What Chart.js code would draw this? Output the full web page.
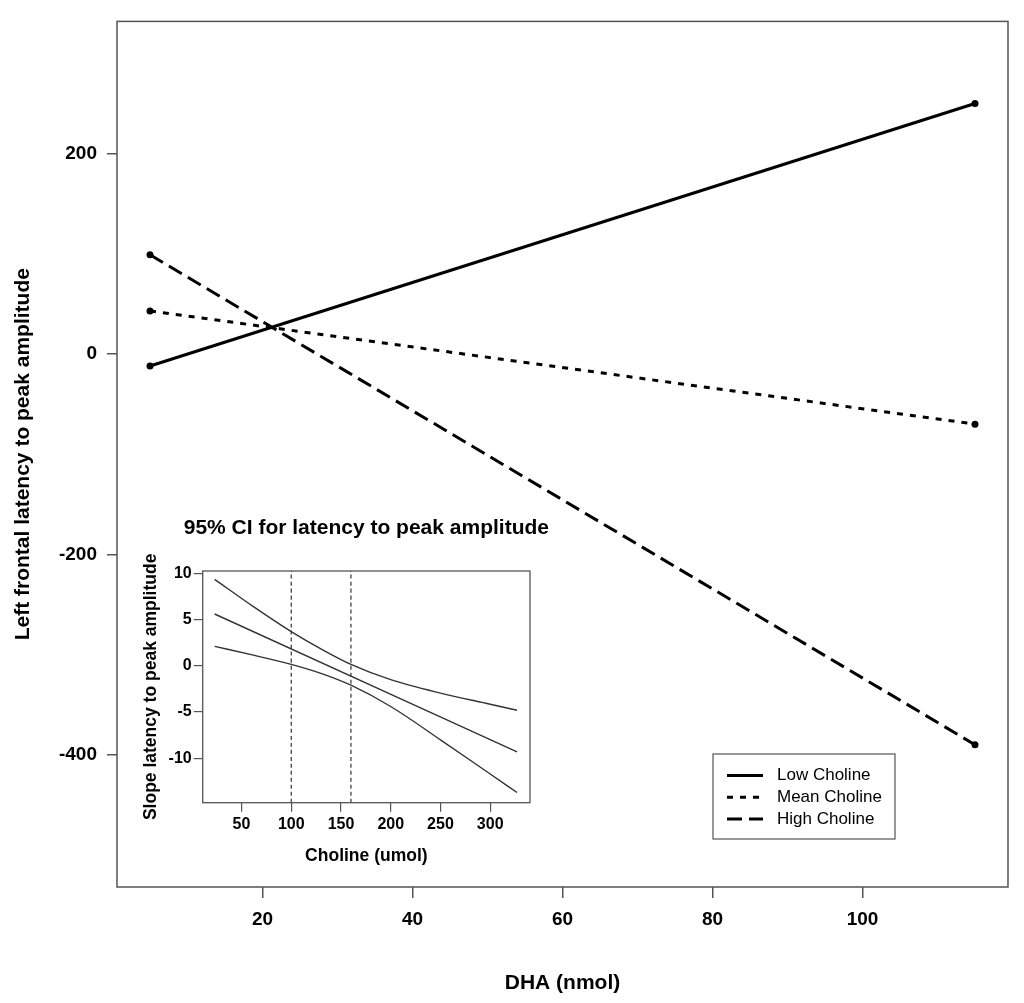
<!DOCTYPE html>
<html>
<head>
<meta charset="utf-8">
<script src="https://cdn.jsdelivr.net/npm/chart.js@4.4.1/dist/chart.umd.min.js"></script>
<style>
  body { margin: 0; background: #fff; }
  #wrap { position: relative; width: 1024px; height: 1003px; }
  #mainChart { position: absolute; left: 0; top: 0; }
  #insetChart { position: absolute; left: 130px; top: 505px; }
</style>
</head>
<body>
<div id="wrap">
  <canvas id="mainChart" width="1024" height="1003"></canvas>
  <canvas id="insetChart" width="420" height="370"></canvas>
</div>
<script>
// main plot: latency vs DHA, one line per choline level
var dhaX = [5, 115];
var lowCholine = [-12, 250];
var meanCholine = [43, -70];
var highCholine = [99, -390];
var seriesNames = ['Low Choline', 'Mean Choline', 'High Choline'];
var dhaTicks = [20, 40, 60, 80, 100];
var latencyTicks = [-400, -200, 0, 200];

// inset: slope of latency with 95% CI over choline
var cholineX = [23, 62, 100, 132, 160, 200, 250, 300, 327];
var ciUpper = [9.35, 6.4, 3.7, 1.7, 0.15, -1.5, -2.95, -4.15, -4.8];
var ciLower = [2.1, 1.15, 0.15, -0.9, -2.1, -4.4, -8.0, -11.7, -13.7];
var slopeX = [23, 327];
var slopeFit = [5.6, -9.3];
var regionBounds = [100, 160];
var cholineTicks = [50, 100, 150, 200, 250, 300];
var slopeTicks = [-10, -5, 0, 5, 10];

var FONT = '"Liberation Sans", Arial, Helvetica, sans-serif';
var INSET_YMIN = -14.8, INSET_YMAX = 10.25;

function pts(xs, ys) {
    return xs.map(function (x, i) { return { x: x, y: ys[i] }; });
}
function fixTicks(list) {
    return function (scale) {
        scale.ticks = list.map(function (v) { return { value: v }; });
    };
}

// box round the plot region, like R's box()
var frame = {
    id: 'frame',
    afterDatasetsDraw: function (chart, args, opts) {
        var a = chart.chartArea, ctx = chart.ctx;
        ctx.save();
        ctx.setLineDash([]);
        ctx.strokeStyle = '#555';
        ctx.lineWidth = opts.width || 1.5;
        ctx.strokeRect(a.left, a.top, a.right - a.left, a.bottom - a.top);
        ctx.restore();
    }
};

// legend in the lower right of the main plot
var legendBox = {
    id: 'legendBox',
    afterDraw: function (chart) {
        var a = chart.chartArea, ctx = chart.ctx;
        var w = 182, h = 85;
        var x0 = a.right - 113 - w, y0 = a.bottom - 48 - h;
        ctx.save();
        ctx.fillStyle = '#fff';
        ctx.fillRect(x0, y0, w, h);
        ctx.strokeStyle = '#555';
        ctx.lineWidth = 1.2;
        ctx.setLineDash([]);
        ctx.strokeRect(x0, y0, w, h);
        ctx.font = '17px ' + FONT;
        ctx.textBaseline = 'middle';
        ctx.textAlign = 'left';
        chart.data.datasets.forEach(function (ds, i) {
            var y = y0 + 21.5 + i * 21.7;
            ctx.beginPath();
            ctx.setLineDash(ds.borderDash || []);
            ctx.lineWidth = 3;
            ctx.strokeStyle = '#000';
            ctx.moveTo(x0 + 14, y);
            ctx.lineTo(x0 + 50, y);
            ctx.stroke();
            ctx.fillStyle = '#000';
            ctx.fillText(ds.label, x0 + 64, y);
        });
        ctx.restore();
    }
};

// inset title centred over the inset plot area
var insetTitle = {
    id: 'insetTitle',
    afterDraw: function (chart) {
        var a = chart.chartArea, ctx = chart.ctx;
        ctx.save();
        ctx.font = 'bold 21px ' + FONT;
        ctx.fillStyle = '#000';
        ctx.textAlign = 'center';
        ctx.textBaseline = 'middle';
        ctx.fillText('95% CI for latency to peak amplitude', (a.left + a.right) / 2, 23);
        ctx.restore();
    }
};

function lineSet(label, ys, dash) {
    return {
        label: label,
        data: pts(dhaX, ys),
        borderColor: '#000',
        backgroundColor: '#000',
        borderWidth: 3,
        borderDash: dash,
        pointRadius: 3.5,
        pointBorderWidth: 0,
        pointBackgroundColor: '#000'
    };
}

new Chart(document.getElementById('mainChart'), {
    type: 'line',
    data: {
        datasets: [
            lineSet(seriesNames[0], lowCholine, []),
            lineSet(seriesNames[1], meanCholine, [6, 7]),
            lineSet(seriesNames[2], highCholine, [15, 7])
        ]
    },
    options: {
        responsive: false,
        animation: false,
        layout: { padding: { top: 17, right: 16, left: 0, bottom: 0 } },
        elements: { line: { tension: 0 } },
        plugins: {
            legend: { display: false },
            tooltip: { enabled: false },
            frame: { width: 1.5 }
        },
        scales: {
            x: {
                type: 'linear',
                min: 0.6,
                max: 119.4,
                afterBuildTicks: fixTicks(dhaTicks),
                afterFit: function (s) { s.height = 116; },
                border: { display: false },
                grid: { drawOnChartArea: false, drawTicks: true, tickLength: 11, color: '#555', lineWidth: 1.5 },
                ticks: { autoSkip: false, maxRotation: 0, padding: 10, color: '#000',
                         font: { family: FONT, size: 19, weight: 'bold' } },
                title: { display: true, text: 'DHA (nmol)', color: '#000',
                         font: { family: FONT, size: 21, weight: 'bold' },
                         padding: { top: 0, bottom: 7 } }
            },
            y: {
                type: 'linear',
                min: -532,
                max: 332,
                afterBuildTicks: fixTicks(latencyTicks),
                afterFit: function (s) { s.width = 117; },
                border: { display: false },
                grid: { drawOnChartArea: false, drawTicks: true, tickLength: 10, color: '#555', lineWidth: 1.5 },
                ticks: { autoSkip: false, padding: 10, color: '#000',
                         font: { family: FONT, size: 19, weight: 'bold' } },
                title: { display: true, text: 'Left frontal latency to peak amplitude', color: '#000',
                         font: { family: FONT, size: 21, weight: 'bold' },
                         padding: { top: 11, bottom: 0 } }
            }
        }
    },
    plugins: [frame, legendBox]
});

function thinSet(xs, ys, dash, width) {
    return {
        data: pts(xs, ys),
        borderColor: '#333',
        borderWidth: width,
        borderDash: dash,
        pointRadius: 0,
        cubicInterpolationMode: 'monotone'
    };
}

var insetSets = [
    thinSet(cholineX, ciUpper, [], 1.4),
    thinSet(slopeX, slopeFit, [], 1.4),
    thinSet(cholineX, ciLower, [], 1.4)
];
regionBounds.forEach(function (b) {
    insetSets.push(thinSet([b, b], [INSET_YMIN, INSET_YMAX], [4, 3], 1.2));
});

new Chart(document.getElementById('insetChart'), {
    type: 'line',
    data: { datasets: insetSets },
    options: {
        responsive: false,
        animation: false,
        layout: { padding: { top: 66, right: 20, left: 0, bottom: 0 } },
        plugins: {
            legend: { display: false },
            tooltip: { enabled: false },
            frame: { width: 1.3 }
        },
        scales: {
            x: {
                type: 'linear',
                min: 11,
                max: 340,
                afterBuildTicks: fixTicks(cholineTicks),
                afterFit: function (s) { s.height = 72.3; },
                border: { display: false },
                grid: { drawOnChartArea: false, drawTicks: true, tickLength: 9, color: '#555', lineWidth: 1.2 },
                ticks: { autoSkip: false, maxRotation: 0, padding: 3, color: '#000',
                         font: { family: FONT, size: 16, weight: 'bold' } },
                title: { display: true, text: 'Choline (umol)', color: '#000',
                         font: { family: FONT, size: 17.5, weight: 'bold' },
                         padding: { top: 0, bottom: 8.5 } }
            },
            y: {
                type: 'linear',
                min: INSET_YMIN,
                max: INSET_YMAX,
                afterBuildTicks: fixTicks(slopeTicks),
                afterFit: function (s) { s.width = 72.7; },
                border: { display: false },
                grid: { drawOnChartArea: false, drawTicks: true, tickLength: 9, color: '#555', lineWidth: 1.2 },
                ticks: { autoSkip: false, padding: 2, color: '#000',
                         font: { family: FONT, size: 16, weight: 'bold' } },
                title: { display: true, text: 'Slope latency to peak amplitude', color: '#000',
                         font: { family: FONT, size: 17.5, weight: 'bold' },
                         padding: { top: 11, bottom: 0 } }
            }
        }
    },
    plugins: [frame, insetTitle]
});
</script>
</body>
</html>
